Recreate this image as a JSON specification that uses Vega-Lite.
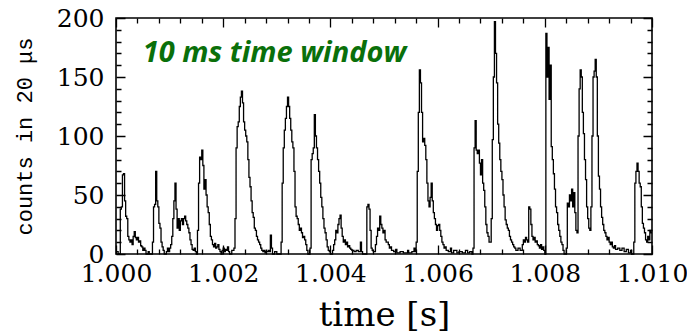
{
  "$schema": "https://vega.github.io/schema/vega-lite/v6.json",
  "width": 536,
  "height": 236,
  "autosize": {"type": "none"},
  "padding": {"left": 116, "top": 18, "right": 35, "bottom": 78},
  "background": "white",
  "config": {
    "view": {"stroke": "#000", "strokeWidth": 1.6},
    "axis": {"domain": false, "ticks": false, "grid": true, "gridColor": "#000", "gridOpacity": 1, "gridWidth": 1.3, "labelColor": "#000", "titleColor": "#000", "labelOverlap": false}
  },
  "datasets": {
    "counts": [
      {"ms": 0.00, "c": 2}, {"ms": 0.04, "c": 0}, {"ms": 0.08, "c": 38}, {"ms": 0.10, "c": 40}, {"ms": 0.12, "c": 67}, {"ms": 0.14, "c": 68}, {"ms": 0.16, "c": 45}, {"ms": 0.18, "c": 32}, {"ms": 0.20, "c": 30}, {"ms": 0.22, "c": 15}, {"ms": 0.24, "c": 12}, {"ms": 0.26, "c": 10}, {"ms": 0.28, "c": 12}, {"ms": 0.30, "c": 8}, {"ms": 0.32, "c": 15}, {"ms": 0.34, "c": 19}, {"ms": 0.36, "c": 14}, {"ms": 0.38, "c": 12}, {"ms": 0.40, "c": 14}, {"ms": 0.42, "c": 10}, {"ms": 0.44, "c": 11}, {"ms": 0.46, "c": 7}, {"ms": 0.48, "c": 6}, {"ms": 0.50, "c": 3}, {"ms": 0.52, "c": 5}, {"ms": 0.54, "c": 3}, {"ms": 0.56, "c": 0}, {"ms": 0.60, "c": 2}, {"ms": 0.62, "c": 0},
      {"ms": 0.68, "c": 10}, {"ms": 0.70, "c": 40}, {"ms": 0.72, "c": 42}, {"ms": 0.74, "c": 70}, {"ms": 0.76, "c": 45}, {"ms": 0.78, "c": 40}, {"ms": 0.80, "c": 26}, {"ms": 0.82, "c": 22}, {"ms": 0.84, "c": 10}, {"ms": 0.86, "c": 6}, {"ms": 0.88, "c": 3}, {"ms": 0.90, "c": 0}, {"ms": 0.94, "c": 2}, {"ms": 0.96, "c": 5}, {"ms": 0.98, "c": 2},
      {"ms": 1.00, "c": 5}, {"ms": 1.02, "c": 8}, {"ms": 1.04, "c": 15}, {"ms": 1.06, "c": 30}, {"ms": 1.08, "c": 45}, {"ms": 1.10, "c": 60}, {"ms": 1.12, "c": 38}, {"ms": 1.14, "c": 22}, {"ms": 1.16, "c": 30}, {"ms": 1.18, "c": 20}, {"ms": 1.20, "c": 28}, {"ms": 1.22, "c": 30}, {"ms": 1.24, "c": 25}, {"ms": 1.26, "c": 30}, {"ms": 1.28, "c": 32}, {"ms": 1.30, "c": 28}, {"ms": 1.32, "c": 25}, {"ms": 1.34, "c": 22}, {"ms": 1.36, "c": 18}, {"ms": 1.38, "c": 12}, {"ms": 1.40, "c": 8}, {"ms": 1.42, "c": 4}, {"ms": 1.44, "c": 3}, {"ms": 1.46, "c": 5}, {"ms": 1.48, "c": 2}, {"ms": 1.50, "c": 0},
      {"ms": 1.52, "c": 20}, {"ms": 1.54, "c": 60}, {"ms": 1.56, "c": 82}, {"ms": 1.58, "c": 80}, {"ms": 1.60, "c": 88}, {"ms": 1.62, "c": 75}, {"ms": 1.64, "c": 55}, {"ms": 1.66, "c": 63}, {"ms": 1.68, "c": 50}, {"ms": 1.70, "c": 40}, {"ms": 1.72, "c": 35}, {"ms": 1.74, "c": 25}, {"ms": 1.76, "c": 15}, {"ms": 1.78, "c": 12}, {"ms": 1.80, "c": 8}, {"ms": 1.82, "c": 6}, {"ms": 1.84, "c": 9}, {"ms": 1.86, "c": 5}, {"ms": 1.88, "c": 6}, {"ms": 1.90, "c": 8}, {"ms": 1.92, "c": 4}, {"ms": 1.94, "c": 2}, {"ms": 1.96, "c": 0}, {"ms": 1.98, "c": 3},
      {"ms": 2.00, "c": 5}, {"ms": 2.02, "c": 2}, {"ms": 2.04, "c": 4}, {"ms": 2.06, "c": 3}, {"ms": 2.08, "c": 6}, {"ms": 2.10, "c": 2}, {"ms": 2.12, "c": 0}, {"ms": 2.16, "c": 3}, {"ms": 2.20, "c": 5}, {"ms": 2.22, "c": 30}, {"ms": 2.24, "c": 90}, {"ms": 2.26, "c": 108}, {"ms": 2.28, "c": 112}, {"ms": 2.30, "c": 125}, {"ms": 2.32, "c": 133}, {"ms": 2.34, "c": 138}, {"ms": 2.36, "c": 128}, {"ms": 2.38, "c": 112}, {"ms": 2.40, "c": 105}, {"ms": 2.42, "c": 100}, {"ms": 2.44, "c": 95}, {"ms": 2.46, "c": 80}, {"ms": 2.48, "c": 65}, {"ms": 2.50, "c": 57}, {"ms": 2.52, "c": 45}, {"ms": 2.54, "c": 35}, {"ms": 2.56, "c": 31}, {"ms": 2.58, "c": 22}, {"ms": 2.60, "c": 20}, {"ms": 2.62, "c": 15}, {"ms": 2.64, "c": 12}, {"ms": 2.66, "c": 10}, {"ms": 2.68, "c": 8}, {"ms": 2.70, "c": 5}, {"ms": 2.72, "c": 3}, {"ms": 2.74, "c": 2}, {"ms": 2.76, "c": 3}, {"ms": 2.78, "c": 1}, {"ms": 2.80, "c": 2}, {"ms": 2.84, "c": 3}, {"ms": 2.86, "c": 2}, {"ms": 2.88, "c": 16}, {"ms": 2.90, "c": 5}, {"ms": 2.92, "c": 0}, {"ms": 2.96, "c": 2},
      {"ms": 3.00, "c": 0}, {"ms": 3.06, "c": 0}, {"ms": 3.08, "c": 10}, {"ms": 3.10, "c": 60}, {"ms": 3.12, "c": 90}, {"ms": 3.14, "c": 105}, {"ms": 3.16, "c": 115}, {"ms": 3.18, "c": 125}, {"ms": 3.20, "c": 133}, {"ms": 3.22, "c": 125}, {"ms": 3.24, "c": 115}, {"ms": 3.26, "c": 105}, {"ms": 3.28, "c": 95}, {"ms": 3.30, "c": 90}, {"ms": 3.32, "c": 70}, {"ms": 3.34, "c": 40}, {"ms": 3.36, "c": 32}, {"ms": 3.38, "c": 30}, {"ms": 3.40, "c": 25}, {"ms": 3.42, "c": 20}, {"ms": 3.44, "c": 22}, {"ms": 3.46, "c": 18}, {"ms": 3.48, "c": 14}, {"ms": 3.50, "c": 15}, {"ms": 3.52, "c": 12}, {"ms": 3.54, "c": 8}, {"ms": 3.56, "c": 3}, {"ms": 3.58, "c": 0}, {"ms": 3.62, "c": 5},
      {"ms": 3.64, "c": 80}, {"ms": 3.66, "c": 85}, {"ms": 3.68, "c": 90}, {"ms": 3.70, "c": 118}, {"ms": 3.72, "c": 100}, {"ms": 3.74, "c": 90}, {"ms": 3.76, "c": 80}, {"ms": 3.78, "c": 70}, {"ms": 3.80, "c": 60}, {"ms": 3.82, "c": 48}, {"ms": 3.84, "c": 40}, {"ms": 3.86, "c": 30}, {"ms": 3.88, "c": 22}, {"ms": 3.90, "c": 18}, {"ms": 3.92, "c": 12}, {"ms": 3.94, "c": 6}, {"ms": 3.96, "c": 3}, {"ms": 3.98, "c": 2},
      {"ms": 4.00, "c": 0}, {"ms": 4.04, "c": 3}, {"ms": 4.06, "c": 8}, {"ms": 4.08, "c": 12}, {"ms": 4.10, "c": 20}, {"ms": 4.12, "c": 18}, {"ms": 4.14, "c": 25}, {"ms": 4.16, "c": 30}, {"ms": 4.18, "c": 33}, {"ms": 4.20, "c": 22}, {"ms": 4.22, "c": 15}, {"ms": 4.24, "c": 10}, {"ms": 4.26, "c": 12}, {"ms": 4.28, "c": 8}, {"ms": 4.30, "c": 10}, {"ms": 4.32, "c": 6}, {"ms": 4.34, "c": 7}, {"ms": 4.36, "c": 5}, {"ms": 4.38, "c": 4}, {"ms": 4.40, "c": 3}, {"ms": 4.44, "c": 2}, {"ms": 4.48, "c": 3}, {"ms": 4.52, "c": 2}, {"ms": 4.56, "c": 10}, {"ms": 4.58, "c": 2}, {"ms": 4.60, "c": 0}, {"ms": 4.68, "c": 40}, {"ms": 4.70, "c": 42}, {"ms": 4.72, "c": 38}, {"ms": 4.74, "c": 20}, {"ms": 4.76, "c": 5}, {"ms": 4.78, "c": 3}, {"ms": 4.80, "c": 2}, {"ms": 4.84, "c": 8}, {"ms": 4.86, "c": 15}, {"ms": 4.88, "c": 22}, {"ms": 4.90, "c": 20}, {"ms": 4.92, "c": 32}, {"ms": 4.94, "c": 25}, {"ms": 4.96, "c": 22}, {"ms": 4.98, "c": 18},
      {"ms": 5.00, "c": 20}, {"ms": 5.02, "c": 12}, {"ms": 5.04, "c": 10}, {"ms": 5.06, "c": 10}, {"ms": 5.08, "c": 8}, {"ms": 5.10, "c": 5}, {"ms": 5.12, "c": 6}, {"ms": 5.14, "c": 3}, {"ms": 5.18, "c": 2}, {"ms": 5.22, "c": 4}, {"ms": 5.24, "c": 1}, {"ms": 5.30, "c": 2}, {"ms": 5.36, "c": 1}, {"ms": 5.44, "c": 3}, {"ms": 5.46, "c": 1}, {"ms": 5.52, "c": 2}, {"ms": 5.56, "c": 5}, {"ms": 5.58, "c": 2}, {"ms": 5.60, "c": 10}, {"ms": 5.62, "c": 70}, {"ms": 5.64, "c": 120}, {"ms": 5.66, "c": 156}, {"ms": 5.68, "c": 145}, {"ms": 5.70, "c": 120}, {"ms": 5.72, "c": 95}, {"ms": 5.74, "c": 98}, {"ms": 5.76, "c": 92}, {"ms": 5.78, "c": 80}, {"ms": 5.80, "c": 60}, {"ms": 5.82, "c": 45}, {"ms": 5.84, "c": 40}, {"ms": 5.86, "c": 48}, {"ms": 5.88, "c": 60}, {"ms": 5.90, "c": 45}, {"ms": 5.92, "c": 35}, {"ms": 5.94, "c": 30}, {"ms": 5.96, "c": 25}, {"ms": 5.98, "c": 20},
      {"ms": 6.00, "c": 24}, {"ms": 6.02, "c": 25}, {"ms": 6.04, "c": 20}, {"ms": 6.06, "c": 15}, {"ms": 6.08, "c": 10}, {"ms": 6.10, "c": 8}, {"ms": 6.12, "c": 5}, {"ms": 6.14, "c": 6}, {"ms": 6.16, "c": 3}, {"ms": 6.20, "c": 2}, {"ms": 6.24, "c": 5}, {"ms": 6.26, "c": 1}, {"ms": 6.30, "c": 3}, {"ms": 6.36, "c": 1}, {"ms": 6.40, "c": 2}, {"ms": 6.46, "c": 1}, {"ms": 6.52, "c": 3}, {"ms": 6.56, "c": 1}, {"ms": 6.60, "c": 2}, {"ms": 6.64, "c": 0}, {"ms": 6.66, "c": 5}, {"ms": 6.68, "c": 90}, {"ms": 6.70, "c": 113}, {"ms": 6.72, "c": 88}, {"ms": 6.74, "c": 85}, {"ms": 6.76, "c": 88}, {"ms": 6.78, "c": 77}, {"ms": 6.80, "c": 67}, {"ms": 6.82, "c": 80}, {"ms": 6.84, "c": 60}, {"ms": 6.86, "c": 54}, {"ms": 6.88, "c": 40}, {"ms": 6.90, "c": 25}, {"ms": 6.92, "c": 18}, {"ms": 6.94, "c": 15}, {"ms": 6.96, "c": 10}, {"ms": 6.98, "c": 10},
      {"ms": 7.00, "c": 30}, {"ms": 7.02, "c": 97}, {"ms": 7.04, "c": 150}, {"ms": 7.06, "c": 197}, {"ms": 7.08, "c": 170}, {"ms": 7.10, "c": 145}, {"ms": 7.12, "c": 110}, {"ms": 7.14, "c": 94}, {"ms": 7.16, "c": 80}, {"ms": 7.18, "c": 70}, {"ms": 7.20, "c": 63}, {"ms": 7.22, "c": 50}, {"ms": 7.24, "c": 40}, {"ms": 7.26, "c": 29}, {"ms": 7.28, "c": 25}, {"ms": 7.30, "c": 22}, {"ms": 7.32, "c": 20}, {"ms": 7.34, "c": 15}, {"ms": 7.36, "c": 12}, {"ms": 7.38, "c": 10}, {"ms": 7.40, "c": 8}, {"ms": 7.42, "c": 6}, {"ms": 7.44, "c": 5}, {"ms": 7.46, "c": 3}, {"ms": 7.50, "c": 5}, {"ms": 7.54, "c": 3}, {"ms": 7.58, "c": 8}, {"ms": 7.60, "c": 12}, {"ms": 7.62, "c": 10}, {"ms": 7.64, "c": 14}, {"ms": 7.66, "c": 12}, {"ms": 7.68, "c": 10}, {"ms": 7.70, "c": 40}, {"ms": 7.72, "c": 38}, {"ms": 7.74, "c": 25}, {"ms": 7.76, "c": 15}, {"ms": 7.78, "c": 12}, {"ms": 7.80, "c": 14}, {"ms": 7.82, "c": 10}, {"ms": 7.84, "c": 11}, {"ms": 7.86, "c": 8}, {"ms": 7.88, "c": 7}, {"ms": 7.90, "c": 5}, {"ms": 7.92, "c": 8}, {"ms": 7.94, "c": 4}, {"ms": 7.96, "c": 6}, {"ms": 7.98, "c": 3},
      {"ms": 8.00, "c": 0}, {"ms": 8.02, "c": 187}, {"ms": 8.04, "c": 150}, {"ms": 8.06, "c": 175}, {"ms": 8.08, "c": 131}, {"ms": 8.10, "c": 160}, {"ms": 8.12, "c": 91}, {"ms": 8.14, "c": 80}, {"ms": 8.16, "c": 68}, {"ms": 8.18, "c": 55}, {"ms": 8.20, "c": 40}, {"ms": 8.22, "c": 35}, {"ms": 8.24, "c": 25}, {"ms": 8.26, "c": 20}, {"ms": 8.28, "c": 15}, {"ms": 8.30, "c": 10}, {"ms": 8.32, "c": 8}, {"ms": 8.34, "c": 3}, {"ms": 8.36, "c": 0}, {"ms": 8.40, "c": 5}, {"ms": 8.42, "c": 43}, {"ms": 8.44, "c": 40}, {"ms": 8.46, "c": 50}, {"ms": 8.48, "c": 45}, {"ms": 8.50, "c": 55}, {"ms": 8.52, "c": 40}, {"ms": 8.54, "c": 52}, {"ms": 8.56, "c": 35}, {"ms": 8.58, "c": 20}, {"ms": 8.60, "c": 18}, {"ms": 8.62, "c": 100}, {"ms": 8.64, "c": 140}, {"ms": 8.66, "c": 156}, {"ms": 8.68, "c": 150}, {"ms": 8.70, "c": 120}, {"ms": 8.72, "c": 102}, {"ms": 8.74, "c": 80}, {"ms": 8.76, "c": 63}, {"ms": 8.78, "c": 40}, {"ms": 8.80, "c": 30}, {"ms": 8.82, "c": 22}, {"ms": 8.84, "c": 20}, {"ms": 8.86, "c": 40}, {"ms": 8.88, "c": 100}, {"ms": 8.90, "c": 150}, {"ms": 8.92, "c": 155}, {"ms": 8.94, "c": 165}, {"ms": 8.96, "c": 150}, {"ms": 8.98, "c": 100},
      {"ms": 9.00, "c": 66}, {"ms": 9.02, "c": 55}, {"ms": 9.04, "c": 40}, {"ms": 9.06, "c": 31}, {"ms": 9.08, "c": 25}, {"ms": 9.10, "c": 20}, {"ms": 9.12, "c": 18}, {"ms": 9.14, "c": 15}, {"ms": 9.16, "c": 12}, {"ms": 9.18, "c": 14}, {"ms": 9.20, "c": 10}, {"ms": 9.22, "c": 8}, {"ms": 9.24, "c": 10}, {"ms": 9.26, "c": 6}, {"ms": 9.28, "c": 5}, {"ms": 9.30, "c": 7}, {"ms": 9.32, "c": 4}, {"ms": 9.36, "c": 5}, {"ms": 9.40, "c": 3}, {"ms": 9.44, "c": 5}, {"ms": 9.48, "c": 2}, {"ms": 9.52, "c": 4}, {"ms": 9.56, "c": 1}, {"ms": 9.60, "c": 3}, {"ms": 9.62, "c": 0}, {"ms": 9.66, "c": 10}, {"ms": 9.68, "c": 60}, {"ms": 9.70, "c": 70}, {"ms": 9.72, "c": 77}, {"ms": 9.74, "c": 70}, {"ms": 9.76, "c": 60}, {"ms": 9.78, "c": 57}, {"ms": 9.80, "c": 40}, {"ms": 9.82, "c": 26}, {"ms": 9.84, "c": 22}, {"ms": 9.86, "c": 18}, {"ms": 9.88, "c": 12}, {"ms": 9.90, "c": 10}, {"ms": 9.92, "c": 15}, {"ms": 9.94, "c": 12}, {"ms": 9.96, "c": 20}, {"ms": 9.98, "c": 18}, {"ms": 10.00, "c": 18}
    ],
    "label": [{"ms": 0.5, "c": 163, "text": "10 ms time window"}]
  },
  "data": {"name": "counts"},
  "transform": [{"calculate": "1 + datum.ms / 1000", "as": "t"}],
  "layer": [
    {
      "mark": {"type": "line", "interpolate": "step-after", "color": "#000", "strokeWidth": 1.3},
      "encoding": {
        "x": {"field": "t", "type": "quantitative", "scale": {"domain": [1.0, 1.01], "nice": false, "zero": false},
          "axis": {"orient": "bottom",
            "values": [1.0, 1.0004, 1.0008, 1.0012, 1.0016, 1.002, 1.0024, 1.0028, 1.0032, 1.0036, 1.004, 1.0044, 1.0048, 1.0052, 1.0056, 1.006, 1.0064, 1.0068, 1.0072, 1.0076, 1.008, 1.0084, 1.0088, 1.0092, 1.0096, 1.01],
            "labelExpr": "abs(round(datum.value * 500) - datum.value * 500) < 0.001 ? format(datum.value, '.3f') : ''",
            "gridDash": {"condition": {"test": "abs(round(datum.value * 500) - datum.value * 500) < 0.001", "value": [9, 218, 9]}, "value": [5, 226, 5]},
            "labelPadding": 7, "labelFont": "DejaVu Serif", "labelFontSize": 25, "labelFlush": false, "labelOverlap": false, "labelBound": false,
            "title": "time [s]", "titleFont": "DejaVu Serif", "titleFontSize": 34, "titleFontWeight": "normal", "titlePadding": 12}},
        "y": {"field": "c", "type": "quantitative", "scale": {"domain": [0, 200], "nice": false},
          "axis": {"orient": "left",
            "values": [0, 10, 20, 30, 40, 50, 60, 70, 80, 90, 100, 110, 120, 130, 140, 150, 160, 170, 180, 190, 200],
            "labelExpr": "datum.value % 50 === 0 ? datum.value : ''",
            "gridDash": {"condition": {"test": "datum.value % 50 === 0", "value": [9, 518, 9]}, "value": [5, 526, 5]},
            "labelPadding": 12, "labelFont": "DejaVu Serif", "labelFontSize": 25, "labelOverlap": false, "labelBound": false,
            "title": "counts in 20 μs", "titleFont": "Liberation Mono", "titleFontSize": 22, "titleFontWeight": "normal", "titlePadding": 20}}
      }
    },
    {
      "data": {"name": "label"},
      "transform": [{"calculate": "1 + datum.ms / 1000", "as": "t"}],
      "mark": {"type": "text", "align": "left", "baseline": "alphabetic", "font": "Open Sans", "fontSize": 29, "fontWeight": "bold", "fontStyle": "italic", "color": "#0a700a"},
      "encoding": {
        "x": {"field": "t", "type": "quantitative", "axis": null},
        "y": {"field": "c", "type": "quantitative", "axis": null},
        "text": {"field": "text"}
      }
    }
  ],
  "resolve": {"axis": {"x": "independent", "y": "independent"}}
}
